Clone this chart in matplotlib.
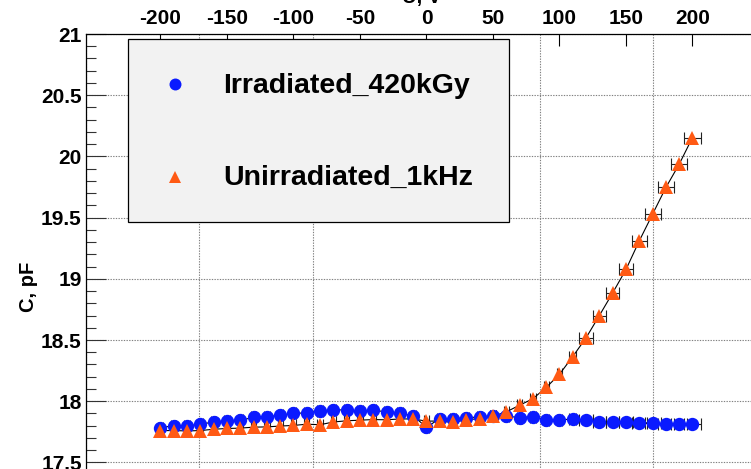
import matplotlib.pyplot as plt
from matplotlib.lines import Line2D
from matplotlib.patches import Rectangle
from matplotlib.ticker import MultipleLocator, FuncFormatter

plt.rcParams['font.family'] = ['Liberation Sans', 'DejaVu Sans']
plt.rcParams['font.weight'] = 'bold'

# bias voltage, V
volts = [-200, -190, -180, -170, -160, -150, -140, -130, -120, -110,
         -100, -90, -80, -70, -60, -50, -40, -30, -20, -10,
         0, 10, 20, 30, 40, 50, 60, 70, 80, 90,
         100, 110, 120, 130, 140, 150, 160, 170, 180, 190, 200]

# capacitance, pF
cap_irr = [17.785, 17.798, 17.798, 17.812, 17.830, 17.840, 17.845, 17.867, 17.872, 17.886,
           17.900, 17.905, 17.918, 17.932, 17.926, 17.918, 17.926, 17.913, 17.900, 17.880,
           17.787, 17.858, 17.858, 17.864, 17.872, 17.880, 17.878, 17.866, 17.874, 17.850,
           17.850, 17.852, 17.843, 17.830, 17.830, 17.830, 17.823, 17.823, 17.812, 17.815, 17.817]

cap_unirr = [17.760, 17.760, 17.757, 17.760, 17.771, 17.777, 17.780, 17.788, 17.790, 17.797,
             17.802, 17.812, 17.808, 17.830, 17.840, 17.845, 17.850, 17.848, 17.855, 17.855,
             17.837, 17.838, 17.826, 17.850, 17.856, 17.877, 17.913, 17.967, 18.020, 18.112,
             18.220, 18.365, 18.518, 18.700, 18.885, 19.076, 19.310, 19.528, 19.746, 19.936, 20.154]

# voltage uncertainty, V
volt_err = [2, 2, 2, 2, 2, 2, 2, 2, 2, 2,
            2, 2, 2, 2, 2, 2, 2, 2, 2, 2,
            2, 2, 2, 2, 2, 2, 2, 2, 2, 2,
            2, 2.5, 5, 5, 5, 5.5, 5.5, 6, 6, 6, 6.5]

labels = ['Irradiated_420kGy', 'Unirradiated_1kHz']
blue = '#0a1aff'
orange = '#ff5a14'

W, H = 751, 469
fig = plt.figure(figsize=(W / 100, H / 100), dpi=100)

# pad geometry in pixels; the frame runs past the right and bottom edges
left_px, top_px = 86, 34
xmin, xmax = -256, 256
ymin, ymax = 17.43, 21.0
px_per_v = 1.33
px_per_pf = 122.4
ax_w = (xmax - xmin) * px_per_v
ax_h = (ymax - ymin) * px_per_pf
ax = fig.add_axes([left_px / W, 1 - (top_px + ax_h) / H, ax_w / W, ax_h / H])
ax.set_xlim(xmin, xmax)
ax.set_ylim(ymin, ymax)

series = [(cap_irr, 'o', blue, 9.6), (cap_unirr, '^', orange, 10.2)]
for vals, mk, col, ms in series:
    ax.errorbar(volts, vals, xerr=volt_err, fmt='none', ecolor='#222222',
                elinewidth=0.8, capsize=4.5, capthick=0.8, zorder=3)
    ax.plot(volts, vals, '-', color='black', lw=0.8, zorder=3)
    ax.plot(volts, vals, ls='none', marker=mk, color=col, markersize=ms,
            markeredgewidth=0, zorder=4)

num_fmt = FuncFormatter(lambda v, p: f'{v:g}')

# voltage scale on top
ax.xaxis.tick_top()
ax.set_xticks([-200, -150, -100, -50, 0, 50, 100, 150, 200])
ax.xaxis.set_major_formatter(num_fmt)
ax.xaxis.set_minor_locator(MultipleLocator(256 / 3))
ax.tick_params(axis='x', which='major', direction='in', length=8.6, width=0.8,
               pad=4, labelsize=15)
ax.tick_params(axis='x', which='minor', length=0)

ax.yaxis.set_major_locator(MultipleLocator(0.5))
ax.yaxis.set_minor_locator(MultipleLocator(0.1))
ax.yaxis.set_major_formatter(num_fmt)
ax.tick_params(axis='y', which='major', direction='in', length=14.4, width=0.8,
               pad=3, labelsize=15, color='#333333')
ax.tick_params(axis='y', which='minor', direction='in', length=7.5, width=0.8,
               color='#333333')

grid_kw = dict(color='#808080', lw=0.8, linestyle=(0, (1.2, 1.2)))
ax.grid(which='minor', axis='x', **grid_kw)
ax.grid(which='major', axis='y', **grid_kw)
ax.set_axisbelow(True)

for s in ax.spines.values():
    s.set_linewidth(0.9)

fig.text(28 / W, 1 - 287 / H, 'C, pF', rotation=90, ha='center', va='center',
         fontsize=14.5)
fig.text(422 / W, 1 - 3 / H, 'U, V', ha='center', va='baseline', fontsize=14.5)

# legend box
fig.add_artist(Rectangle((128 / W, 1 - 222 / H), 381 / W, 183 / H,
                         transform=fig.transFigure, facecolor='#f2f2f2',
                         edgecolor='black', lw=0.9, zorder=5))
rows = [(84, 93), (177, 185)]
for (yc, yb), (vals, mk, col, ms), lab in zip(rows, series, labels):
    fig.add_artist(Line2D([175 / W], [1 - yc / H], marker=mk, color=col,
                          markersize=ms - 1, markeredgewidth=0, ls='none',
                          transform=fig.transFigure, zorder=6))
    fig.text(223 / W, 1 - yb / H, lab, va='baseline', ha='left', fontsize=20.5,
             zorder=6)

fig.savefig('out.png', dpi=100)
